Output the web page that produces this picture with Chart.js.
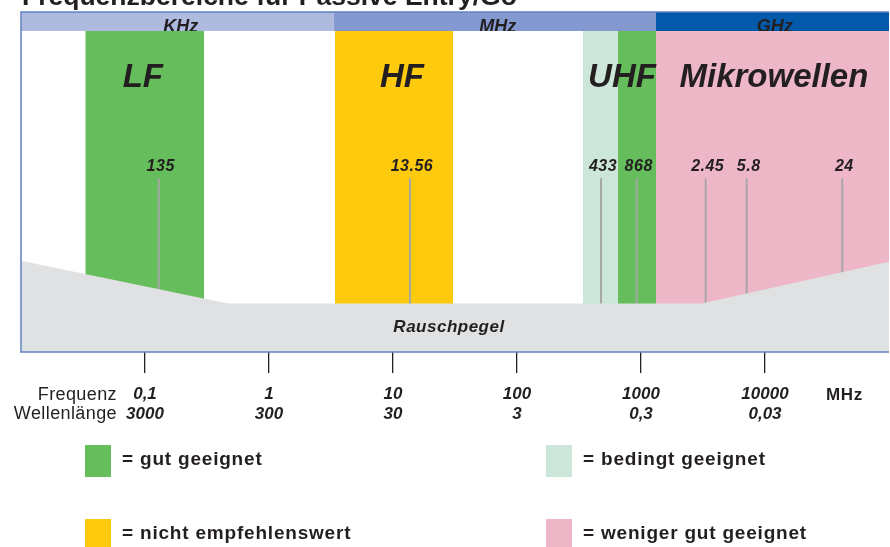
<!DOCTYPE html>
<html>
<head>
<meta charset="utf-8">
<script src="https://cdn.jsdelivr.net/npm/chart.js@4.4.1/dist/chart.umd.min.js"></script>
<style>
  html, body { margin: 0; padding: 0; background: #fff; }
  #wrap { width: 890px; height: 547px; }
</style>
</head>
<body>
<div id="wrap"><canvas id="bandChart"></canvas></div>
<script>
// Frequenzbereiche (x in MHz, logarithmisch)
const bandFrom = [0.033, 3.4, 340, 653, 1321];
const bandTo = [0.3, 30.5, 653, 1321, 100000];
const bandColors = ['#65bd5b', '#fdca0e', '#cde6da', '#65bd5b', '#eeb7c7'];
const bandTop = 94.4;

const bandLabels = ['LF', 'HF', 'UHF', 'Mikrowellen'];
const bandLabelX = [0.096, 11.8, 703, 11800];
const bandLabelY = 80.6;

// Kopfzeile
const headerNames = ['KHz', 'MHz', 'GHz'];
const headerFrom = [0.01, 3.34, 1321];
const headerTo = [3.34, 1321, 100000];
const headerColors = ['#aebbdf', '#8399cf', '#035aab'];
const headerLabelX = [0.194, 69.9, 12000];

// Markierungen
const markerX = [0.129, 13.7, 476, 923, 3325, 7115, 42000];
const markerLabels = ['135', '13.56', '433', '868', '2.45', '5.8', '24'];
const markerTop = 51.1;
const markerLabelY = 54.5;

// Rauschpegel
const noiseX = [0.01, 0.467, 3090, 100000];
const noiseY = [26.85, 14.3, 14.3, 26.56];

// Achse
const freqTicks = [0.1, 1, 10, 100, 1000, 10000];
const freqLabels = ['0,1', '1', '10', '100', '1000', '10000'];
const waveLabels = ['3000', '300', '30', '3', '0,3', '0,03'];

// Legende
const legendLabels = ['= gut geeignet', '= bedingt geeignet', '= nicht empfehlenswert', '= weniger gut geeignet'];
const legendColors = ['#65bd5b', '#cde6da', '#fdca0e', '#eeb7c7'];

const textColor = '#231f20';
const fontFam = '"Liberation Sans", Arial, sans-serif';

function rect(from, to, top) {
  return [{ x: from, y: top }, { x: to, y: top }];
}

const datasets = [];

// Rauschpegel oben
datasets.push({
  data: noiseX.map((x, i) => ({ x: x, y: noiseY[i] })),
  backgroundColor: '#e0e1e3',
  borderWidth: 0,
  fill: 'origin',
  order: 0
});

markerX.forEach(x => {
  datasets.push({
    data: [{ x: x, y: markerTop }, { x: x, y: 0 }],
    borderColor: '#a7a7a7',
    borderWidth: 2,
    fill: false,
    order: 1
  });
});

bandFrom.forEach((f, i) => {
  datasets.push({
    data: rect(f, bandTo[i], bandTop),
    backgroundColor: bandColors[i],
    borderWidth: 0,
    fill: 'origin',
    order: 2
  });
});

headerFrom.forEach((f, i) => {
  datasets.push({
    data: rect(f, headerTo[i], 100),
    backgroundColor: headerColors[i],
    borderWidth: 0,
    fill: { value: bandTop },
    order: 2
  });
});

const textPlugin = {
  id: 'texte',
  afterDatasetsDraw(chart) {
    const ctx = chart.ctx;
    const xs = chart.scales.x, ys = chart.scales.y;
    const a = chart.chartArea;
    ctx.save();
    ctx.fillStyle = textColor;
    ctx.textAlign = 'center';
    ctx.textBaseline = 'middle';

    ctx.font = 'italic bold 33px ' + fontFam;
    bandLabels.forEach((t, i) => {
      ctx.fillText(t, xs.getPixelForValue(bandLabelX[i]), ys.getPixelForValue(bandLabelY));
    });

    ctx.font = 'italic bold 16px ' + fontFam;
    ctx.letterSpacing = '0.5px';
    markerLabels.forEach((t, i) => {
      ctx.fillText(t, xs.getPixelForValue(markerX[i]) + 2, ys.getPixelForValue(markerLabelY));
    });

    ctx.font = 'italic bold 17px ' + fontFam;
    ctx.fillText('Rauschpegel', xs.getPixelForValue(28.3), ys.getPixelForValue(7.2));

    // Kopfzeilentexte, unten vom Band abgeschnitten
    const hb = ys.getPixelForValue(bandTop);
    ctx.beginPath();
    ctx.rect(a.left, a.top, a.right - a.left, hb - a.top);
    ctx.clip();
    ctx.font = 'italic bold 18px ' + fontFam;
    ctx.letterSpacing = '0px';
    headerNames.forEach((t, i) => {
      ctx.fillText(t, xs.getPixelForValue(headerLabelX[i]), ys.getPixelForValue(95.6));
    });
    ctx.restore();
  },
  afterDraw(chart) {
    const ctx = chart.ctx;
    const a = chart.chartArea;
    ctx.save();
    // Rahmen
    ctx.strokeStyle = '#5f82c4';
    ctx.lineWidth = 1.5;
    ctx.beginPath();
    ctx.moveTo(a.right, a.top);
    ctx.lineTo(a.left, a.top);
    ctx.lineTo(a.left, a.bottom);
    ctx.lineTo(a.right, a.bottom);
    ctx.stroke();

    // Titel (oben abgeschnitten)
    ctx.fillStyle = textColor;
    ctx.textBaseline = 'alphabetic';
    ctx.textAlign = 'left';
    ctx.font = 'bold 26.5px ' + fontFam;
    ctx.fillText('Frequenzbereiche für Passive Entry/Go', 22, 5);

    // Achsenbeschriftung
    ctx.textBaseline = 'middle';
    ctx.textAlign = 'right';
    ctx.font = '18px ' + fontFam;
    ctx.letterSpacing = '0.4px';
    ctx.fillText('Frequenz', 117, 395);
    ctx.fillText('Wellenlänge', 117, 414);
    ctx.textAlign = 'left';
    ctx.font = 'bold 17px ' + fontFam;
    ctx.letterSpacing = '0.6px';
    ctx.fillText('MHz', 826, 395);

    // Legende
    ctx.font = 'bold 19px ' + fontFam;
    ctx.letterSpacing = '0.8px';
    const colX = [85, 546];
    const rowY = [445, 519];
    legendLabels.forEach((t, i) => {
      const cx = colX[i % 2], cy = rowY[Math.floor(i / 2)];
      ctx.fillStyle = legendColors[i];
      ctx.fillRect(cx, cy, 26, 32);
      ctx.fillStyle = textColor;
      ctx.fillText(t, cx + 37, cy + 15);
    });
    ctx.restore();
  }
};

new Chart(document.getElementById('bandChart'), {
  type: 'line',
  data: { datasets: datasets },
  options: {
    responsive: true,
    maintainAspectRatio: false,
    animation: false,
    layout: { padding: { left: 21, right: 1, top: 12, bottom: 0 } },
    elements: { point: { radius: 0 }, line: { tension: 0 } },
    plugins: {
      legend: { display: false },
      tooltip: { enabled: false },
      title: { display: false }
    },
    scales: {
      x: {
        type: 'logarithmic',
        min: 0.01,
        max: 100000,
        afterBuildTicks: (scale) => {
          scale.ticks = freqTicks.map(v => ({ value: v }));
        },
        afterFit: (scale) => {
          scale.height = 195;
        },
        border: { display: false },
        grid: {
          drawOnChartArea: false,
          drawTicks: true,
          tickLength: 21,
          color: '#222',
          lineWidth: 1.3
        },
        ticks: {
          autoSkip: false,
          maxRotation: 0,
          padding: 12,
          color: textColor,
          font: { family: fontFam, size: 17, weight: 'bold', style: 'italic', lineHeight: 1.15 },
          callback: (v, i) => [freqLabels[i], waveLabels[i]]
        }
      },
      y: {
        type: 'linear',
        min: 0,
        max: 100,
        display: false
      }
    }
  },
  plugins: [textPlugin]
});
</script>
</body>
</html>
